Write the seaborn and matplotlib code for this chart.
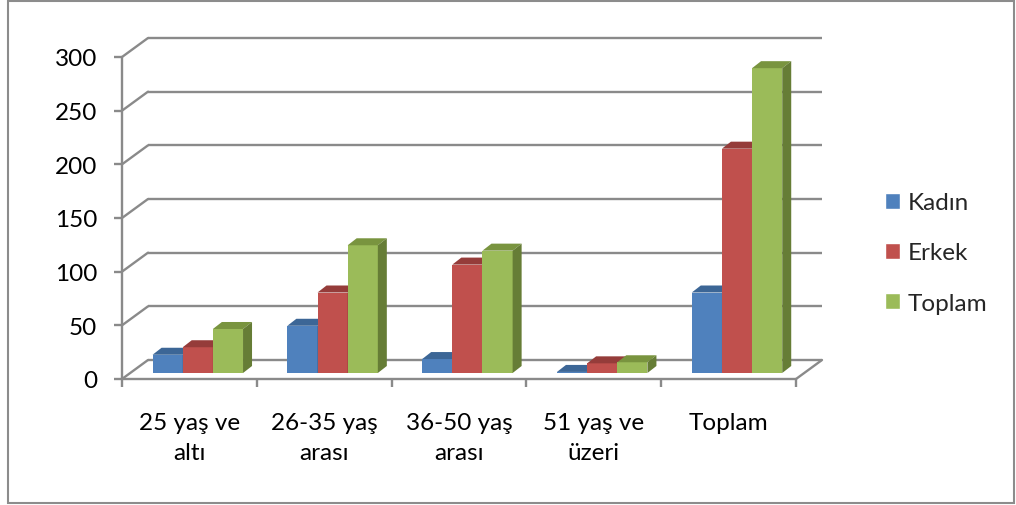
import numpy as np
import pandas as pd
import matplotlib
matplotlib.use("Agg")
import matplotlib.pyplot as plt
from matplotlib.patches import Polygon, Rectangle
import seaborn as sns

# ---- data ----
categories = ["25 yaş ve\naltı", "26-35 yaş\narası", "36-50 yaş\narası", "51 yaş ve\nüzeri", "Toplam"]
series_names = ["Kadın", "Erkek", "Toplam"]
kadin = [17, 44, 13, 1, 75]
erkek = [24, 75, 101, 9, 209]
toplam = [41, 119, 114, 10, 284]
y_ticks = [0, 50, 100, 150, 200, 250, 300]

face_colors = ["#4F81BD", "#C0504D", "#9BBB59"]
top_colors = ["#3C6696", "#953C3A", "#79943F"]
side_colors = ["#385E8C", "#8A3634", "#667D36"]

df = pd.DataFrame({
    "cat": categories * 3,
    "series": [series_names[0]] * 5 + [series_names[1]] * 5 + [series_names[2]] * 5,
    "value": kadin + erkek + toplam,
})

sns.set_theme(style="white")
plt.rcParams["font.family"] = ["Lato", "DejaVu Sans"]
FS = 17.5

W, H = 1016, 506
fig = plt.figure(figsize=(W / 100, H / 100), dpi=100)
ax_l, ax_r, ax_b, ax_t = 122, 796, 380, 58
ax = fig.add_axes([ax_l / W, 1 - ax_b / H, (ax_r - ax_l) / W, (ax_b - ax_t) / H])

sns.barplot(data=df, x="cat", y="value", hue="series", palette=face_colors,
            width=0.671, gap=0, saturation=1, ax=ax, legend=True)
handles, labels = ax.get_legend_handles_labels()
ax.get_legend().remove()

ax.set_xlim(-0.5, 4.5)
ax.set_ylim(0, 300)
ax.set_xlabel("")
ax.set_ylabel("")
for s in ax.spines.values():
    s.set_visible(False)
ax.set_facecolor("none")

# pixel -> data conversion
ux = 5.0 / (ax_r - ax_l)
uy = 300.0 / (ax_b - ax_t)

grid_c = "#8A8A8A"
lw = 1.7
depth_dx, depth_dy = 26 * ux, 19 * uy
# back wall gridlines and left wall diagonals
for v in y_ticks:
    ax.plot([-0.5 + depth_dx, 4.5 + depth_dx], [v + depth_dy, v + depth_dy],
            color=grid_c, lw=lw, clip_on=False, zorder=0.5, solid_capstyle="butt")
    ax.plot([-0.5, -0.5 + depth_dx], [v, v + depth_dy],
            color=grid_c, lw=lw, clip_on=False, zorder=0.5)
# floor
ax.plot([-0.5, 4.5], [0, 0], color=grid_c, lw=lw, clip_on=False, zorder=0.6)
ax.plot([4.5, 4.5 + depth_dx], [0, depth_dy], color=grid_c, lw=lw, clip_on=False, zorder=0.6)
# front vertical axis
ax.plot([-0.5, -0.5], [0, 300], color=grid_c, lw=lw, clip_on=False, zorder=0.6)

# ticks
ax.set_yticks(y_ticks)
ax.set_yticklabels([str(v) for v in y_ticks], fontsize=FS, color="black")
ax.tick_params(axis="y", which="major", left=True, length=8 * 0.72, width=lw,
               color=grid_c, pad=12)
ax.set_xticks(range(len(categories)))
ax.set_xticklabels(categories, fontsize=FS, color="black", linespacing=1.5)
ax.tick_params(axis="x", which="major", bottom=False, length=0, pad=24)
ax.set_xticks(np.arange(-0.5, 5.0, 1.0), minor=True)
ax.tick_params(axis="x", which="minor", bottom=True, length=8 * 0.72, width=lw, color=grid_c)

# 3D bars: shift bars to mid depth and add top/side faces
bar_dx, bar_dy = 8.4 * ux, 6 * uy
bd_x, bd_y = 9 * ux, 7 * uy
bars = [p for p in ax.patches if isinstance(p, Rectangle) and p.get_width() > 0]
bars.sort(key=lambda p: p.get_x())
for rank, p in enumerate(bars):
    x0 = p.get_x() + bar_dx
    w = p.get_width()
    h = p.get_height()
    y0 = p.get_y() + bar_dy
    fc = matplotlib.colors.to_hex(p.get_facecolor())
    k = [c.lower() for c in face_colors].index(fc.lower())
    p.set_x(x0)
    p.set_y(y0)
    p.set_edgecolor("none")
    p.set_linewidth(0)
    p.set_clip_on(False)
    z = 2 + rank * 0.1
    p.set_zorder(z)
    top = Polygon([(x0, y0 + h), (x0 + w, y0 + h), (x0 + w + bd_x, y0 + h + bd_y),
                   (x0 + bd_x, y0 + h + bd_y)], closed=True, facecolor=top_colors[k],
                  edgecolor="none", zorder=z + 0.01, clip_on=False)
    side = Polygon([(x0 + w, y0), (x0 + w + bd_x, y0 + bd_y), (x0 + w + bd_x, y0 + h + bd_y),
                    (x0 + w, y0 + h)], closed=True, facecolor=side_colors[k],
                   edgecolor="none", zorder=z + 0.02, clip_on=False)
    ax.add_patch(top)
    ax.add_patch(side)

# legend
fs_px = FS * 100 / 72
leg = fig.legend(handles, labels, loc="center left",
                 bbox_to_anchor=(885 / W, 1 - 254 / H), frameon=False,
                 fontsize=FS, handlelength=15 / fs_px, handleheight=15 / fs_px,
                 handletextpad=8 / fs_px, labelspacing=1.2, borderpad=0, borderaxespad=0)

# outer border
fig.add_artist(Rectangle((8 / W, 1 - 504 / H), (1014 - 8) / W, (504 - 2) / H,
                         transform=fig.transFigure, fill=False, edgecolor="#8C8C8C", lw=1.5))

fig.savefig("out.png", dpi=100)
